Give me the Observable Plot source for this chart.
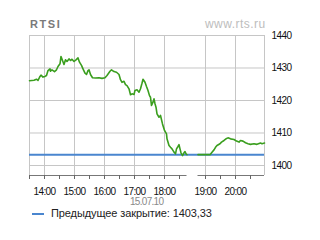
<!DOCTYPE html>
<html><head><meta charset="utf-8">
<script src="https://cdn.jsdelivr.net/npm/d3@7"></script>
<script src="https://cdn.jsdelivr.net/npm/@observablehq/plot@0.6"></script>
<style>
body{margin:0;background:#fff;}
#wrap{position:relative;width:320px;height:240px;font-family:"Liberation Sans",Arial,sans-serif;}
.t{position:absolute;white-space:nowrap;}
</style></head><body>
<div id="wrap">
  <div id="chart"></div>
  <div class="t" style="left:30px;top:19px;font-size:11px;line-height:11px;font-weight:bold;color:#7a7a7a;letter-spacing:1.6px;">RTSI</div>
  <div class="t" style="left:205px;top:18px;font-size:12px;line-height:12px;color:#bdbdbd;letter-spacing:0.45px;">www.rts.ru</div>
  <div class="t" style="left:130px;top:196.5px;font-size:10px;line-height:10px;color:#8a8a8a;letter-spacing:-0.7px;">15.07.10</div>
  <div class="t" style="left:32px;top:213px;width:12px;height:2px;background:#4a86cf;"></div>
  <div class="t" style="left:51px;top:207.5px;font-size:11px;line-height:11px;color:#222;letter-spacing:-0.1px;">Предыдущее закрытие: 1403,33</div>
</div>
<script>
// ---- data ----
const mainTimes = ["13:30","13:39","13:44","13:47","13:51","13:53","13:57","14:01","14:04","14:07","14:11","14:12","14:15","14:20","14:24","14:27","14:31","14:33","14:36","14:39","14:42","14:45","14:49","14:52","14:55","14:59","15:03","15:07","15:10","15:14","15:17","15:21","15:24","15:27","15:29","15:32","15:36","15:42","15:49","15:55","16:01","16:05","16:11","16:14","16:19","16:24","16:29","16:32","16:35","16:39","16:42","16:45","16:49","16:52","16:55","16:59","17:01","17:05","17:09","17:12","17:15","17:17","17:21","17:24","17:27","17:30","17:32","17:34","17:37","17:39","17:41","17:43","17:45","17:49","17:52","17:56","18:00","18:04","18:05","18:09","18:12","18:15","18:19","18:22","18:24","18:27","18:29","18:31","18:33","18:36","18:39","18:41","18:43","18:45"];
const mainValues = [1426.1,1426.25,1426.55,1426.15,1427.4,1427.8,1427.2,1427.4,1427.7,1429.2,1429.75,1429.0,1429.45,1428.9,1429.45,1430.45,1431.3,1433.55,1432.3,1431.1,1432.5,1432.0,1432.8,1432.3,1432.7,1432.0,1432.5,1433.1,1431.8,1430.8,1429.75,1428.4,1428.0,1429.2,1429.45,1428.0,1427.0,1426.9,1427.0,1426.8,1427.0,1427.7,1429.0,1429.45,1428.9,1428.7,1428.0,1426.4,1425.6,1425.9,1424.9,1424.6,1423.6,1421.75,1422.05,1421.85,1423.1,1423.3,1422.55,1423.6,1425.3,1426.55,1425.6,1424.3,1423.1,1421.5,1421.0,1418.45,1419.5,1420.5,1419.0,1417.95,1415.9,1414.85,1415.4,1412.8,1410.8,1409.75,1408.2,1406.15,1405.6,1405.1,1404.1,1403.6,1405.1,1405.85,1406.4,1405.1,1403.9,1403.05,1403.9,1404.3,1403.6,1403.3];
const eveningTimes = ["18:45","19:09","19:13","19:17","19:20","19:23","19:29","19:32","19:37","19:41","19:45","19:50","19:57","20:02","20:07","20:10","20:15","20:20","20:25","20:30","20:37","20:43","20:50","20:53","20:58"];
const eveningValues = [1403.33,1403.33,1404.1,1404.8,1405.6,1406.15,1406.7,1407.2,1407.7,1408.2,1408.5,1408.2,1408.0,1407.5,1407.2,1407.7,1407.5,1407.0,1406.7,1406.5,1406.7,1406.5,1406.9,1406.7,1406.9];
const prevClose = 1403.33;
const sessionNames = ["main","evening"];
const sessionStarts = ["13:30","18:45"];
const sessionEnds = ["18:45","20:58"];
const eveningGapMinutes = 22;
const hourTicks = ["14:00","15:00","16:00","17:00","18:00","19:00","20:00"];
const halfTicks = ["13:30","14:30","15:30","16:30","17:30","18:30","19:30","20:30"];
const yTicks = [1400,1410,1420,1430,1440];
const yMin = 1396.92, yMax = 1440;

// ---- helpers ----
const mins = s => { const [h,m] = s.split(":").map(Number); return h*60+m; };
const sessionOf = s => mins(s) >= 19*60 ? "evening" : "main";
const unit = (s, sess) => mins(s) + ((sess || sessionOf(s)) === "evening" ? eveningGapMinutes : 0);

const rows = [
  ...mainTimes.map((t,i)=>({x:unit(t,"main"), v:mainValues[i], s:"main"})),
  ...eveningTimes.map((t,i)=>({x:unit(t,"evening"), v:eveningValues[i], s:"evening"}))
];
const sessions = sessionNames.map((n,i)=>({x1:unit(sessionStarts[i],n), x2:unit(sessionEnds[i],n)}));
const xStart = sessions[0].x1, xEnd = sessions[1].x2;
const hourUnits = hourTicks.map(t=>unit(t));
const labelOf = new Map(hourTicks.map(t=>[unit(t), t]));
const allTickUnits = [...hourUnits, ...halfTicks.map(t=>unit(t))];

const chart = Plot.plot({
  width: 320, height: 240,
  marginLeft: 29, marginRight: 56, marginTop: 35, marginBottom: 65,
  style: {fontFamily: '"Liberation Sans", Arial, sans-serif', background: "transparent"},
  x: {type: "linear", domain: [xStart, xEnd], label: null},
  y: {domain: [yMin, yMax], label: null},
  marks: [
    Plot.ruleY(yTicks, {stroke: "#c6c6c6", strokeWidth: 1}),
    Plot.ruleX([xStart, ...hourUnits, xEnd], {stroke: "#c6c6c6", strokeWidth: 1}),
    Plot.ruleY([prevClose], {stroke: "#4a86cf", strokeWidth: 2}),
    Plot.line(rows, {x: "x", y: "v", z: "s", stroke: "#3a9e1e", strokeWidth: 1.6, curve: "linear"}),
    Plot.ruleY(sessions, {y: () => yMin, x1: "x1", x2: "x2", stroke: "#777", strokeWidth: 1}),
    Plot.axisX({ticks: allTickUnits, tickSize: 4, tickPadding: 8, stroke: "#666", fill: "#111", fontSize: 10, label: null,
      tickFormat: d => labelOf.get(d) || ""}),
    Plot.axisY({anchor: "right", ticks: yTicks, tickSize: 0, tickPadding: 7, fill: "#111", fontSize: 10, label: null, tickFormat: d => String(d)})
  ]
});
document.getElementById("chart").appendChild(chart);
document.querySelectorAll("#chart svg g[aria-label='x-axis tick label'] text, #chart svg g[aria-label='y-axis tick label'] text").forEach(t=>t.setAttribute("letter-spacing","-0.6"));
</script>
</body></html>
